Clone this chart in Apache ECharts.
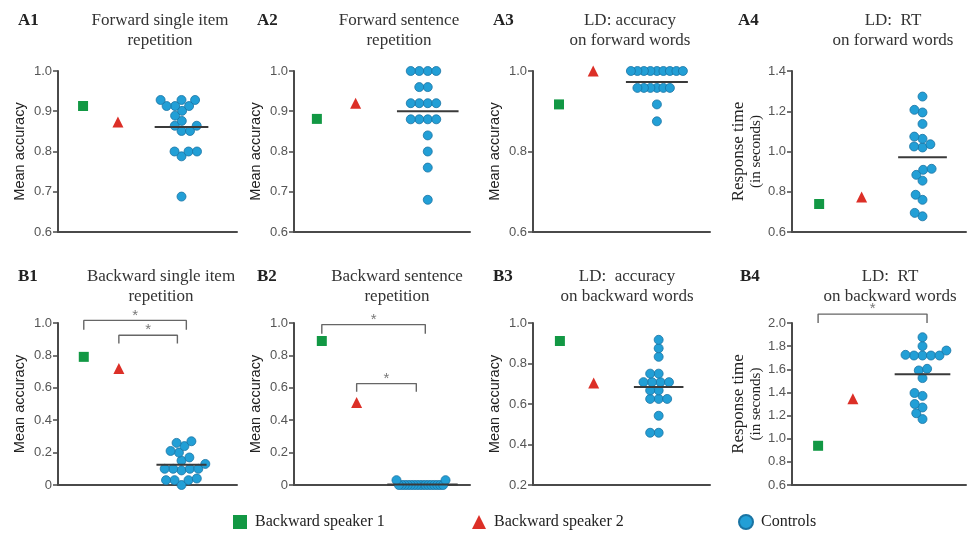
<!DOCTYPE html>
<html><head><meta charset="utf-8">
<script src="https://cdn.jsdelivr.net/npm/echarts@6/dist/echarts.min.js"></script>
<style>html,body{margin:0;padding:0;background:#fff}#c{width:967px;height:543px}</style>
</head><body><div id="c"></div>
<script>
// ---------------- DATA ----------------
const groupNames = ['Backward speaker 1', 'Backward speaker 2', 'Controls'];
const panelLabels = ['A1', 'A2', 'A3', 'A4', 'B1', 'B2', 'B3', 'B4'];
const panelTitles = [
  'Forward single item\nrepetition', 'Forward sentence\nrepetition',
  'LD: accuracy\non forward words', 'LD:  RT\non forward words',
  'Backward single item\nrepetition', 'Backward sentence\nrepetition',
  'LD:  accuracy\non backward words', 'LD:  RT\non backward words'
];
const yAxisNames = ['Mean accuracy', 'Mean accuracy', 'Mean accuracy', 'RT',
                    'Mean accuracy', 'Mean accuracy', 'Mean accuracy', 'RT'];
const yMin  = [0.6, 0.6, 0.6, 0.6, 0, 0, 0.2, 0.6];
const yMax  = [1.0, 1.0, 1.0, 1.4, 1.0, 1.0, 1.0, 2.0];
const yStep = [0.1, 0.1, 0.2, 0.2, 0.2, 0.2, 0.2, 0.2];

const speaker1 = [0.913, 0.881, 0.917, 0.739, 0.791, 0.889, 0.911, 0.939];
const speaker2 = [0.873, 0.920, 1.000, 0.774, 0.719, 0.509, 0.704, 1.346];

const controlsA1 = [0.928, 0.928, 0.928, 0.913, 0.913, 0.913, 0.901, 0.889, 0.876,
                    0.864, 0.864, 0.851, 0.851, 0.800, 0.800, 0.800, 0.788, 0.688];
const controlsA2 = [1.0, 1.0, 1.0, 1.0, 0.96, 0.96, 0.92, 0.92, 0.92, 0.92,
                    0.88, 0.88, 0.88, 0.88, 0.84, 0.80, 0.76, 0.68];
const controlsA3 = [1.0, 1.0, 1.0, 1.0, 1.0, 1.0, 1.0, 1.0, 1.0,
                    0.958, 0.958, 0.958, 0.958, 0.958, 0.958, 0.917, 0.875];
const controlsA4 = [1.273, 1.207, 1.194, 1.137, 1.074, 1.063, 1.036, 1.025, 1.020,
                    0.914, 0.909, 0.884, 0.855, 0.785, 0.760, 0.695, 0.678];
const controlsB1 = [0.27, 0.26, 0.24, 0.21, 0.20, 0.17, 0.15, 0.13, 0.10, 0.10,
                    0.10, 0.10, 0.09, 0.04, 0.03, 0.03, 0.03, 0.0];
const controlsB2 = [0.03, 0.03, 0, 0, 0, 0, 0, 0, 0, 0, 0, 0, 0, 0, 0, 0, 0, 0];
const controlsB3 = [0.917, 0.875, 0.833, 0.75, 0.75, 0.708, 0.708, 0.708, 0.708,
                    0.667, 0.667, 0.625, 0.625, 0.625, 0.542, 0.458, 0.458];
const controlsB4 = [1.877, 1.80, 1.762, 1.719, 1.719, 1.719, 1.719, 1.725, 1.604,
                    1.59, 1.524, 1.37, 1.395, 1.30, 1.27, 1.22, 1.17];
const controls = [controlsA1, controlsA2, controlsA3, controlsA4,
                  controlsB1, controlsB2, controlsB3, controlsB4];

// significance brackets: [bracket top value, leg end value]
const significanceB1 = [[1.016, 0.959], [0.924, 0.873]];
const significanceB2 = [[0.990, 0.934], [0.626, 0.575]];
const significanceB4 = [[2.077, 2.0]];

// ---------------- LAYOUT ----------------
const COLORS = { s1: '#129844', s2: '#dc2f27', ctrl: '#229fd6', ctrlBorder: '#1a74a3', axis: '#4a4a4a' };
const colLeft = [58, 294, 533, 792];
const colWidth = [179, 176, 177, 174];
const rowTop = [71, 323];
const rowH = [161, 162];
const titleX = [155, 394, 625, 888, 156, 392, 622, 885];
const labelX = [13, 252, 488, 733, 13, 252, 488, 735];
const titleTop = [6, 262];
const s1X = [0.14, 0.13, 0.147, 0.156, 0.144, 0.158, 0.152, 0.15];
const s2X = [0.335, 0.35, 0.34, 0.40, 0.34, 0.356, 0.343, 0.35];
const ctrlX = [0.69, 0.76, 0.70, 0.75, 0.69, 0.73, 0.71, 0.75];
const meanHalf = [0.15, 0.175, 0.175, 0.14, 0.14, 0.2, 0.14, 0.16];
const bracketLayout = {
  4: { sig: significanceB1, from: [0, 1], toOff: [0.027, -0.023] },
  5: { sig: significanceB2, from: [0, 1], toOff: [0.016, -0.035] },
  7: { sig: significanceB4, from: [0], toOff: [0.026] }
};

function gridOf(i) {
  const r = i < 4 ? 0 : 1, c = i % 4;
  return { left: colLeft[c], top: rowTop[r], width: colWidth[c], height: rowH[r] };
}

// beeswarm layout computed from the values
function swarm(values, i) {
  const g = gridOf(i);
  const pxY = g.height / (yMax[i] - yMin[i]);
  const d = 8.5;
  const sorted = values.slice().sort((a, b) => a - b);
  const placed = [];
  sorted.forEach((v, k) => {
    const y = v * pxY;
    const cands = [0];
    placed.forEach(p => {
      const dy = Math.abs(p.y - y);
      if (dy < d) {
        const dx = Math.sqrt(d * d - dy * dy);
        cands.push(p.x + dx, p.x - dx);
      }
    });
    const sign = k % 2 ? 1 : -1;
    cands.sort((a, b) => (Math.abs(a) - Math.abs(b)) || (a - b) * sign);
    let chosen = cands[0];
    for (const c of cands) {
      if (placed.every(p => Math.hypot(p.x - c, p.y - y) >= d - 1e-6)) { chosen = c; break; }
    }
    placed.push({ x: chosen, y: y, v: v });
  });
  const maxAbs = Math.max(...placed.map(p => Math.abs(p.x)), 1e-9);
  const scale = Math.min(1, 26 / maxAbs);
  return placed.map(p => [ctrlX[i] + p.x * scale / g.width, p.v]);
}

const grids = [], xAxes = [], yAxes = [], series = [], titles = [];
const serif = 'Liberation Serif', sans = 'Liberation Sans';

for (let i = 0; i < 8; i++) {
  grids.push(gridOf(i));
  xAxes.push({
    type: 'value', gridIndex: i, min: 0, max: 1,
    axisLine: { show: true, onZero: false, lineStyle: { color: COLORS.axis, width: 2 } },
    axisTick: { show: false }, axisLabel: { show: false }, splitLine: { show: false }
  });
  const isRT = yAxisNames[i] === 'RT';
  yAxes.push({
    type: 'value', gridIndex: i, min: yMin[i], max: yMax[i], interval: yStep[i],
    name: isRT ? '{a|Response time}\n{b|(in seconds)}' : yAxisNames[i],
    nameLocation: 'middle', nameRotate: 90, nameGap: isRT ? 28 : 31,
    nameTextStyle: isRT ? {
      rich: {
        a: { fontFamily: serif, fontSize: 17, color: '#222', lineHeight: 18, align: 'center' },
        b: { fontFamily: serif, fontSize: 15, color: '#222', lineHeight: 16, align: 'center' }
      }
    } : { fontFamily: sans, fontSize: 14.5, color: '#222' },
    axisLine: { show: true, onZero: false, lineStyle: { color: COLORS.axis, width: 2 } },
    axisTick: { show: true, length: 5, lineStyle: { color: COLORS.axis, width: 1.5 } },
    axisLabel: {
      margin: 6, fontFamily: sans, fontSize: 13, color: '#555',
      formatter: v => (Math.abs(v) < 1e-9 ? '0' : v.toFixed(1))
    },
    splitLine: { show: false }
  });
  titles.push({
    text: panelTitles[i], left: titleX[i], top: titleTop[i < 4 ? 0 : 1], textAlign: 'center',
    textStyle: { fontFamily: serif, fontSize: 17, fontWeight: 'normal', color: '#333', lineHeight: 20 }
  });
  titles.push({
    text: panelLabels[i], left: labelX[i], top: titleTop[i < 4 ? 0 : 1] + 1,
    textStyle: { fontFamily: serif, fontSize: 17, fontWeight: 'bold', color: '#222' }
  });

  series.push({
    type: 'scatter', name: groupNames[0], xAxisIndex: i, yAxisIndex: i,
    symbol: 'rect', symbolSize: 10, itemStyle: { color: COLORS.s1, opacity: 1 },
    data: [[s1X[i], speaker1[i]]], silent: true
  });
  series.push({
    type: 'scatter', name: groupNames[1], xAxisIndex: i, yAxisIndex: i,
    symbol: 'triangle', symbolSize: 11, itemStyle: { color: COLORS.s2, opacity: 1 },
    data: [[s2X[i], speaker2[i]]], silent: true
  });
  series.push({
    type: 'scatter', name: groupNames[2], xAxisIndex: i, yAxisIndex: i,
    symbol: 'circle', symbolSize: 9,
    itemStyle: { color: COLORS.ctrl, borderColor: COLORS.ctrlBorder, borderWidth: 0.8, opacity: 1 },
    data: swarm(controls[i], i), silent: true
  });
  const mean = controls[i].reduce((a, b) => a + b, 0) / controls[i].length;
  series.push({
    type: 'line', name: 'mean' + i, xAxisIndex: i, yAxisIndex: i, z: 5,
    symbol: 'none', lineStyle: { color: '#3a3a3a', width: 2 }, silent: true,
    data: [[ctrlX[i] - meanHalf[i], mean], [ctrlX[i] + meanHalf[i], mean]]
  });

  const br = bracketLayout[i];
  if (br) {
    br.sig.forEach((s, k) => {
      const x1 = br.from[k] === 0 ? s1X[i] : s2X[i];
      const x2 = ctrlX[i] + br.toOff[k];
      series.push({
        type: 'line', name: 'bracket' + i + '_' + k, xAxisIndex: i, yAxisIndex: i,
        symbol: 'none', clip: false, silent: true,
        lineStyle: { color: '#666', width: 1.4 },
        data: [[x1, s[1]], [x1, s[0]], [x2, s[0]], [x2, s[1]]]
      });
      series.push({
        type: 'scatter', name: 'star' + i + '_' + k, xAxisIndex: i, yAxisIndex: i,
        symbolSize: 1, itemStyle: { color: 'rgba(0,0,0,0)' }, clip: false, silent: true,
        label: { show: true, position: 'top', distance: -3, formatter: '*',
                 fontFamily: sans, fontSize: 15, color: '#555' },
        data: [[(x1 + x2) / 2, s[0]]]
      });
    });
  }
}

const legendText = { fontFamily: serif, fontSize: 16, color: '#222', padding: [0, 0, 0, 3] };
const legends = [
  { data: [groupNames[0]], left: 228, icon: 'rect' },
  { data: [groupNames[1]], left: 467, icon: 'triangle' },
  { data: [groupNames[2]], left: 733, icon: 'circle' }
].map(l => Object.assign({
  top: 509, itemWidth: 14, itemHeight: 14, selectedMode: false, textStyle: legendText
}, l));

const chart = echarts.init(document.getElementById('c'), null, { renderer: 'canvas' });
chart.setOption({
  animation: false,
  backgroundColor: '#fff',
  title: titles,
  legend: legends,
  grid: grids,
  xAxis: xAxes,
  yAxis: yAxes,
  series: series
});
</script>
</body></html>
